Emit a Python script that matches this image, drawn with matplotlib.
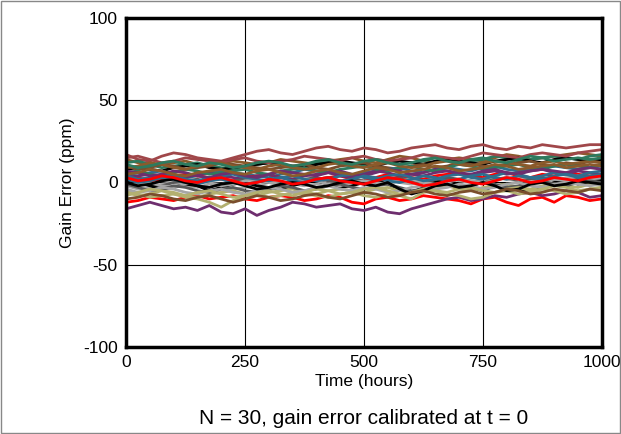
from matplotlib import pyplot as plt
from matplotlib.patches import Rectangle
import numpy as np

plt.rcParams['font.family'] = ['Liberation Sans', 'DejaVu Sans']
plt.rcParams['axes.unicode_minus'] = False

# time axis, every 25 hours
hours = np.arange(0, 1001, 25)

# gain error (ppm), 30 units
s01 = [17, 14, 13, 16, 18, 17, 15, 14, 13, 15, 17, 19, 20, 18, 17, 19, 21, 22, 20, 19, 21, 20, 18, 19, 21, 22, 23, 21, 20, 22, 23, 21, 20, 22, 21, 23, 22, 21, 22, 23, 23]
s02 = [14, 12, 10, 11, 12, 13, 11, 10, 12, 13, 12, 11, 12, 14, 13, 12, 11, 13, 14, 15, 13, 12, 14, 16, 15, 13, 12, 14, 15, 14, 13, 15, 17, 16, 14, 15, 16, 17, 18, 17, 16]
s03 = [12, 13, 11, 9, 10, 11, 12, 10, 9, 8, 10, 11, 12, 10, 9, 11, 12, 13, 11, 10, 12, 14, 13, 11, 12, 13, 15, 14, 12, 13, 14, 16, 15, 13, 14, 15, 16, 15, 14, 16, 17]
s04 = [8, 9, 8, 7, 9, 10, 11, 9, 8, 9, 10, 11, 12, 11, 10, 9, 11, 12, 13, 12, 11, 10, 12, 13, 12, 11, 13, 14, 13, 12, 11, 13, 14, 15, 13, 12, 14, 15, 14, 13, 14]
s05 = [10, 8, 9, 11, 10, 8, 9, 10, 12, 11, 10, 9, 8, 9, 10, 11, 9, 8, 10, 11, 12, 10, 9, 8, 10, 11, 9, 10, 12, 11, 10, 9, 11, 12, 13, 11, 10, 12, 11, 13, 12]
s06 = [5, 4, 6, 7, 5, 3, 4, 6, 7, 6, 5, 4, 3, 5, 6, 8, 7, 6, 5, 4, 6, 7, 8, 9, 7, 6, 8, 9, 8, 7, 9, 10, 8, 7, 8, 9, 10, 9, 8, 9, 10]
s07 = [2, 3, 1, 2, 4, 5, 4, 3, 2, 1, 3, 4, 5, 3, 2, 1, 2, 3, 4, 2, 1, 3, 5, 4, 3, 2, 4, 5, 6, 4, 3, 5, 6, 4, 3, 5, 4, 6, 5, 4, 5]
s08 = [3, 4, 5, 4, 2, 3, 5, 6, 4, 3, 2, 4, 5, 3, 2, 4, 5, 6, 4, 3, 5, 7, 6, 4, 5, 6, 8, 7, 5, 4, 6, 7, 5, 6, 7, 8, 6, 5, 7, 6, 5]
s09 = [-2, -4, -3, -1, 0, -2, -3, -1, -2, -4, -3, -2, 0, 1, -1, -2, -1, 0, 1, 0, -1, 1, 2, 0, -1, 1, 2, 3, 1, 0, 2, 3, 2, 1, 3, 2, 1, 3, 4, 2, 3]
s10 = [0, 1, -1, -2, 0, 1, 2, 0, -1, 1, 2, 1, 0, -1, 1, 2, 3, 1, 0, 2, 1, 0, 2, 3, 1, 0, 1, 3, 2, 1, 0, 2, 3, 1, 2, 3, 2, 1, 2, 3, 2]
s11 = [15, 16, 14, 12, 13, 15, 14, 13, 12, 14, 15, 13, 12, 13, 14, 16, 15, 14, 13, 15, 16, 14, 13, 14, 15, 17, 16, 15, 14, 16, 18, 17, 16, 15, 17, 18, 17, 16, 18, 19, 20]
s12 = [1, 0, -2, -4, -3, -1, -2, -5, -3, -1, 0, -2, -3, -4, -2, 0, 1, -1, -3, -2, 0, 1, -1, -4, -6, -3, 0, 1, -1, -3, -5, -2, -1, -4, -6, -3, 0, 1, -1, 0, 1]
s13 = [6, 7, 5, 4, 6, 8, 7, 5, 6, 7, 8, 6, 5, 7, 8, 9, 7, 6, 8, 9, 10, 8, 7, 9, 10, 8, 7, 9, 11, 10, 8, 9, 10, 11, 9, 8, 10, 11, 10, 9, 11]
s14 = [-3, -1, 0, -2, -3, -1, 1, 0, -2, -1, 1, 2, 0, -1, 0, 2, 1, -1, -2, 0, 1, 0, -1, 1, 2, 0, -1, 0, 2, 1, 0, 1, 3, 2, 0, 1, 2, 1, 0, 2, 3]
s15 = [-12, -11, -9, -10, -11, -9, -8, -10, -9, -8, -10, -11, -9, -8, -9, -11, -10, -8, -9, -12, -13, -10, -9, -11, -10, -8, -9, -10, -11, -13, -10, -9, -12, -14, -10, -9, -12, -8, -9, -11, -10]
s16 = [-16, -14, -12, -14, -16, -15, -17, -14, -18, -19, -16, -20, -17, -15, -12, -13, -15, -14, -13, -16, -17, -15, -18, -19, -16, -14, -12, -10, -9, -11, -10, -8, -9, -7, -6, -8, -7, -5, -6, -9, -8]
s17 = [-5, -7, -9, -8, -7, -9, -10, -12, -15, -11, -8, -7, -9, -8, -6, -7, -8, -9, -7, -6, -8, -9, -7, -8, -10, -6, -5, -7, -8, -10, -9, -6, -5, -7, -6, -4, -5, -7, -6, -4, -3]
s18 = [-6, -8, -7, -5, -6, -8, -9, -7, -6, -5, -7, -8, -6, -5, -4, -6, -7, -5, -4, -5, -6, -4, -3, -5, -6, -4, -3, -2, -4, -5, -3, -2, -1, -3, -4, -2, -1, -2, -3, -1, 0]
s19 = [9, 10, 12, 11, 9, 8, 10, 11, 12, 10, 9, 8, 10, 11, 9, 8, 9, 11, 12, 10, 9, 11, 12, 10, 9, 10, 12, 13, 11, 10, 12, 13, 12, 11, 10, 12, 13, 11, 12, 13, 12]
s20 = [4, 2, 3, 5, 4, 2, 1, 3, 4, 5, 3, 2, 1, 3, 4, 2, 1, 2, 4, 5, 3, 2, 4, 5, 3, 1, 2, 4, 5, 3, 2, 4, 6, 5, 3, 4, 6, 5, 4, 6, 7]
s21 = [-1, -3, -5, -4, -2, -3, -5, -6, -4, -3, -5, -6, -4, -2, -3, -5, -4, -2, -1, -3, -4, -2, -1, -3, -5, -4, -2, -1, -3, -2, 0, -1, -3, -2, 0, 1, -1, -2, 0, 1, 0]
s22 = [7, 6, 4, 5, 7, 6, 4, 3, 5, 6, 4, 3, 5, 7, 6, 5, 4, 6, 7, 5, 4, 6, 8, 7, 5, 4, 6, 7, 6, 5, 7, 8, 6, 5, 7, 8, 7, 6, 8, 9, 8]
s23 = [-4, -6, -5, -3, -4, -6, -7, -5, -4, -6, -7, -5, -3, -4, -6, -5, -3, -2, -4, -5, -3, -4, -6, -5, -3, -2, -4, -3, -1, -2, -4, -3, -1, 0, -2, -3, -1, 0, -1, -2, -1]
s24 = [11, 9, 10, 12, 13, 11, 10, 12, 11, 9, 10, 12, 13, 12, 10, 11, 13, 14, 12, 11, 13, 14, 12, 11, 12, 14, 15, 13, 12, 14, 15, 13, 12, 14, 16, 15, 13, 14, 15, 14, 15]
s25 = [-8, -6, -4, -5, -7, -8, -6, -5, -7, -9, -8, -6, -5, -7, -8, -6, -4, -5, -7, -6, -4, -3, -5, -7, -6, -4, -5, -6, -4, -3, -5, -6, -4, -3, -5, -4, -2, -3, -5, -4, -3]
s26 = [2, 0, 1, 3, 2, 0, -1, 1, 2, 0, -1, 0, 2, 3, 1, 0, 2, 3, 1, 2, 4, 3, 1, 0, 2, 4, 3, 1, 2, 4, 5, 3, 2, 4, 3, 2, 4, 5, 3, 4, 5]
s27 = [0, -2, -1, 1, 2, 0, -2, -3, -1, 0, -2, -4, -3, -1, 0, -1, -3, -2, 0, 1, -1, -2, 0, -4, -7, -5, -2, -1, -3, -2, 0, -2, -5, -4, -1, 0, -2, -1, 1, 0, -1]
s28 = [5, 6, 8, 7, 5, 4, 6, 7, 8, 6, 5, 7, 8, 6, 4, 5, 7, 8, 6, 5, 7, 9, 8, 6, 7, 8, 10, 9, 7, 8, 9, 11, 10, 8, 9, 10, 11, 9, 10, 11, 10]
s29 = [-10, -9, -7, -8, -10, -11, -9, -8, -10, -12, -10, -8, -9, -11, -10, -8, -7, -9, -10, -8, -6, -7, -9, -8, -6, -5, -7, -8, -6, -5, -7, -6, -4, -5, -7, -6, -4, -5, -6, -4, -5]
s30 = [3, 1, 2, 4, 3, 1, 0, 2, 3, 1, -1, 0, 2, 1, -1, 0, 2, 3, 1, 0, -1, 1, 3, 2, 0, -2, -1, 1, 2, 0, -1, 1, 3, 2, 0, 1, 3, 2, 1, 3, 4]

series = [s01, s02, s03, s04, s05, s06, s07, s08, s09, s10,
          s11, s12, s13, s14, s15, s16, s17, s18, s19, s20,
          s21, s22, s23, s24, s25, s26, s27, s28, s29, s30]

colors = ['#A0474A', '#8B5A2B', '#2E7A5E', '#000000', '#7A4E2C', '#2E6E8E', '#FF0000', '#6E2E6E', '#A6A6A6', '#595959',
          '#A0474A', '#000000', '#2E7A5E', '#A6A6A6', '#FF0000', '#6E2E6E', '#B3B070', '#B3B070', '#8B5A2B', '#2E6E8E',
          '#595959', '#6E2E6E', '#A6A6A6', '#2E7A5E', '#B3B070', '#2E6E8E', '#000000', '#8B5A2B', '#7A4E2C', '#FF0000']

fig = plt.figure(figsize=(6.21, 4.34), dpi=100)
ax = fig.add_axes([0.203, 0.2005, 0.766, 0.758])

for vals, c in zip(series, colors):
    ax.plot(hours, vals, color=c, lw=2.0, solid_joinstyle='round')

ax.set_xlim(0, 1000)
ax.set_ylim(-100, 100)
ax.set_xticks([0, 250, 500, 750, 1000])
ax.set_yticks([-100, -50, 0, 50, 100])
ax.grid(True, color='black', lw=0.8)
ax.set_axisbelow(True)
ax.tick_params(length=0, labelsize=12.5, pad=6)
for sp in ax.spines.values():
    sp.set_linewidth(2.5)

ax.set_xlabel("Time (hours)", fontsize=12.5, labelpad=3)
ax.set_ylabel("Gain Error (ppm)", fontsize=12.5, labelpad=6)

fig.text(0.586, 0.022, "N = 30, gain error calibrated at t = 0", fontsize=15, ha='center')
fig.patches.append(Rectangle((0.002, 0.002), 0.996, 0.996, transform=fig.transFigure,
                             fill=False, edgecolor='#888888', lw=1))

fig.savefig("out.png", dpi=100)
